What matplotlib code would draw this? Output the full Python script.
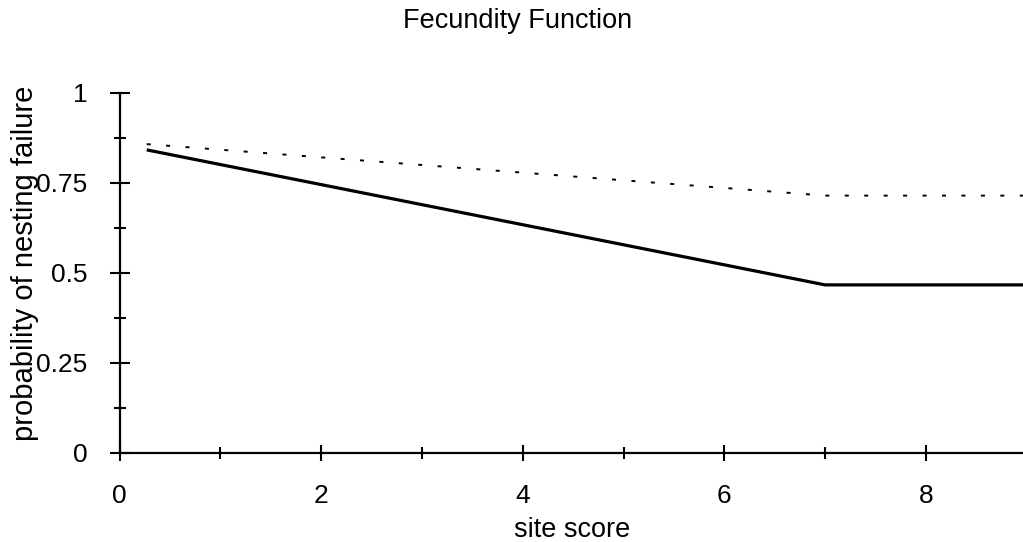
import matplotlib
matplotlib.use("Agg")
import matplotlib.pyplot as plt
from matplotlib.ticker import MultipleLocator, FixedLocator

plt.rcParams['font.family'] = ['Liberation Sans', 'DejaVu Sans']
plt.rcParams['lines.scale_dashes'] = False

# data
site_score = [0.27, 7.0, 9.0]
solid_prob = [0.842, 0.467, 0.467]
dotted_prob = [0.858, 0.715, 0.715]
x_ticks = [0, 2, 4, 6, 8]
y_ticks = [0, 0.25, 0.5, 0.75, 1]
y_tick_labels = ["0", "0.25", "0.5", "0.75", "1"]

W, H = 1023, 542
fig = plt.figure(figsize=(W / 100, H / 100), dpi=100)
ax = fig.add_axes([119.5 / W, (H - 453) / H, (W - 119.5) / W, (453 - 93) / H])

ax.plot(site_score, solid_prob, color='black', lw=2.3, solid_capstyle='butt')
ax.plot(site_score, dotted_prob, color='black', lw=1.4, dashes=(2.9, 11.1))

ax.set_xlim(0, (W - 119.5) / 100.8)
ax.set_ylim(0, 1)

for s in ['top', 'right']:
    ax.spines[s].set_visible(False)
for s in ['left', 'bottom']:
    ax.spines[s].set_linewidth(1.6)
ax.spines['left'].set_zorder(5)

ax.xaxis.set_major_locator(FixedLocator(x_ticks))
ax.xaxis.set_minor_locator(MultipleLocator(1))
ax.yaxis.set_major_locator(FixedLocator(y_ticks))
ax.yaxis.set_minor_locator(MultipleLocator(0.125))
ax.set_yticklabels(y_tick_labels)
ax.set_xticklabels([str(v) for v in x_ticks])

ax.tick_params(axis='y', which='major', direction='inout', length=14, width=1.5,
               labelsize=19, pad=16)
ax.tick_params(axis='y', which='minor', direction='inout', length=8, width=1.5)
ax.tick_params(axis='x', which='major', direction='inout', length=12, width=1.5,
               labelsize=19, pad=16)
ax.tick_params(axis='x', which='minor', direction='inout', length=9, width=1.5)

fig.text(25 / W, 1 - 263.5 / H, "probability of nesting failure", rotation=90,
         ha='center', va='center', fontsize=21)
fig.text(572 / W, 1 - 537 / H, "site score", ha='center', va='baseline', fontsize=19.5)
fig.text(518 / W, 1 - 28 / H, "Fecundity Function", ha='center', va='baseline', fontsize=19.5)

fig.savefig("out.png", dpi=100)
